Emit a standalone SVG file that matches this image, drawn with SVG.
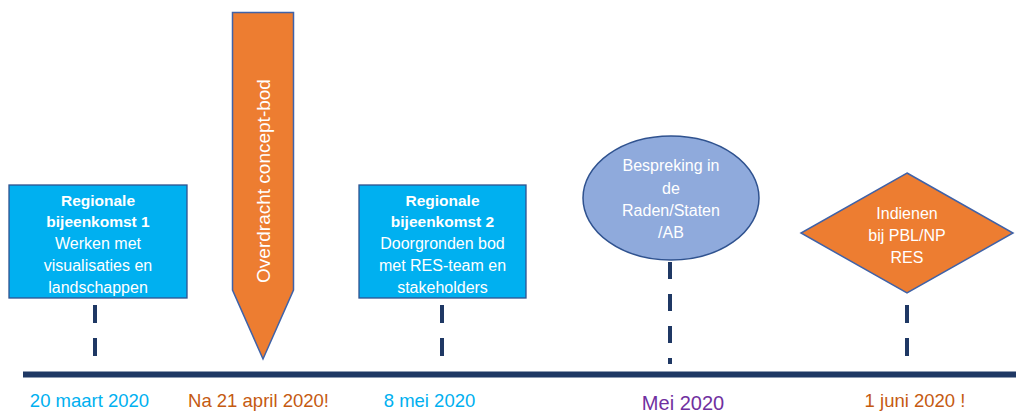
<svg xmlns="http://www.w3.org/2000/svg" width="1016" height="414" viewBox="0 0 1016 414">
<style>
  .box { fill: #00B0F0; stroke: #2F528F; stroke-width: 1.3; }
  .orange { fill: #ED7D31; stroke: #3F62A8; stroke-width: 1.5; }
  .ell { fill: #8FAADC; stroke: #2F528F; stroke-width: 1.5; }
  .t { font-family: "Liberation Sans", Arial, sans-serif; fill: #FFFFFF; font-size: 16px; text-anchor: middle; }
  .b { font-weight: bold; font-size: 15.5px; }
  .dash { stroke: #1F3864; stroke-width: 4; fill: none; }
  .date { font-family: "Liberation Sans", Arial, sans-serif; font-size: 18.5px; text-anchor: middle; }
</style>
<rect width="1016" height="414" fill="#FFFFFF"/>
<g id="connectors">
  <line class="dash" x1="95" y1="305" x2="95" y2="357" stroke-dasharray="18 15"/>
  <line class="dash" x1="442" y1="305" x2="442" y2="357" stroke-dasharray="18 15"/>
  <line class="dash" x1="670" y1="262" x2="670" y2="364" stroke-dasharray="17 15"/>
  <line class="dash" x1="907" y1="305" x2="907" y2="357" stroke-dasharray="18 15"/>
  <line x1="23" y1="374.5" x2="1016" y2="374.5" stroke="#1F3864" stroke-width="6"/>
</g>
<g id="node-regionale-1">
  <rect class="box" x="9" y="185" width="178" height="113"/>
  <text class="t b" x="98" y="206">Regionale</text>
  <text class="t b" x="98" y="227">bijeenkomst 1</text>
  <text class="t" x="98" y="248.5">Werken met</text>
  <text class="t" x="98" y="270.5">visualisaties en</text>
  <text class="t" x="98" y="292.5">landschappen</text>
</g>
<g id="node-overdracht">
  <polygon class="orange" points="232.5,12.5 293.5,12.5 293.5,290 263,359 232.5,290"/>
  <text class="t" style="font-size:19px" transform="translate(263,181) rotate(-90)" x="0" y="6.5">Overdracht concept-bod</text>
</g>
<g id="node-regionale-2">
  <rect class="box" x="359" y="185" width="167" height="113"/>
  <text class="t b" x="442.5" y="206">Regionale</text>
  <text class="t b" x="442.5" y="227">bijeenkomst 2</text>
  <text class="t" x="442.5" y="248.5">Doorgronden bod</text>
  <text class="t" x="442.5" y="270.5">met RES-team en</text>
  <text class="t" x="442.5" y="292.5">stakeholders</text>
</g>
<g id="node-bespreking">
  <ellipse class="ell" cx="671" cy="198" rx="88" ry="62"/>
  <text class="t" x="671" y="170.5">Bespreking in</text>
  <text class="t" x="671" y="193.5">de</text>
  <text class="t" x="671" y="215.5">Raden/Staten</text>
  <text class="t" x="671" y="237.5">/AB</text>
</g>
<g id="node-indienen">
  <polygon class="orange" stroke="#2F528F" points="907,173 1013,233 907,293 801,233"/>
  <text class="t" x="907" y="219">Indienen</text>
  <text class="t" x="907" y="241">bij PBL/NP</text>
  <text class="t" x="907" y="263">RES</text>
</g>
<g id="dates">
  <text class="date" x="89.5" y="406.5" fill="#00B0F0">20 maart 2020</text>
  <text class="date" x="258.5" y="406.5" fill="#C55A11">Na 21 april 2020!</text>
  <text class="date" x="429.5" y="406.5" fill="#00B0F0">8 mei 2020</text>
  <text class="date" x="683" y="410" fill="#7030A0" style="font-size:20px">Mei 2020</text>
  <text class="date" x="915" y="406.5" fill="#C55A11">1 juni 2020 !</text>
</g>
</svg>
